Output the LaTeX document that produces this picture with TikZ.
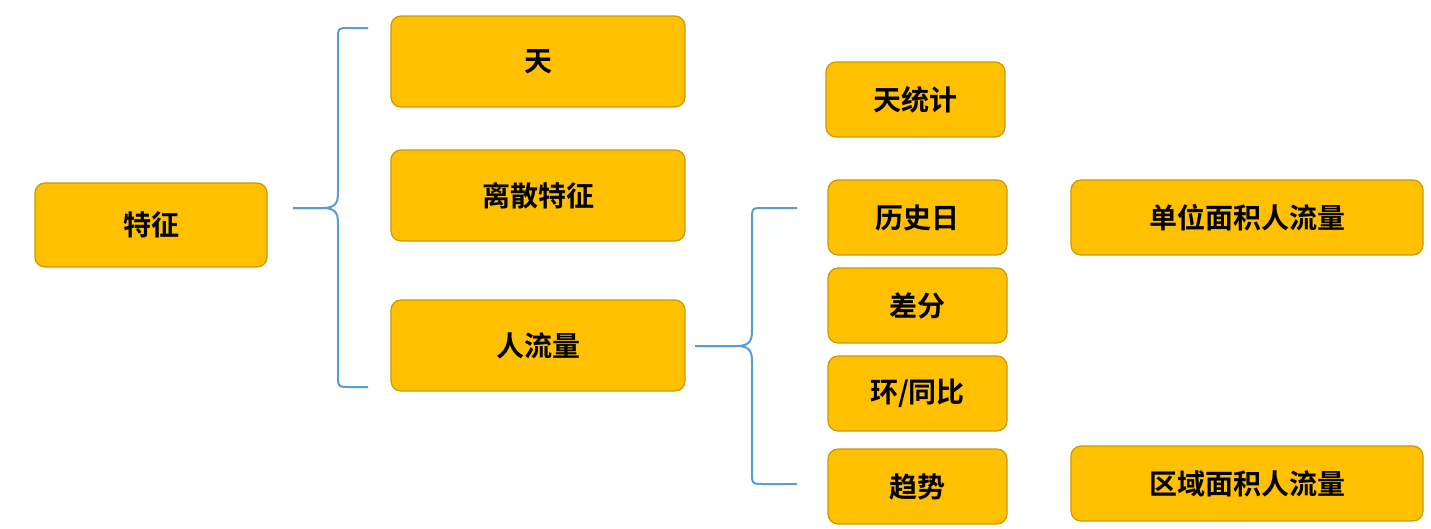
\documentclass[tikz,border=0pt]{standalone}
\usepackage{fontspec}
\newfontfamily\cjk{Noto Sans CJK SC}[BoldFont={Noto Sans CJK SC Bold}]
\definecolor{boxfill}{HTML}{FFC000}
\definecolor{boxdraw}{HTML}{C99A00}
\definecolor{brace}{HTML}{5B9BD5}
\begin{document}
\begin{tikzpicture}[x=1pt,y=-1pt,
  box/.style={draw=boxdraw,fill=boxfill,line width=1.2pt,rounded corners=10pt,inner sep=0pt,font=\cjk\bfseries\fontsize{28}{30}\selectfont},
  br/.style={draw=brace,line width=2pt}]
\useasboundingbox (0,0) rectangle (1431,528);
\node[box,minimum width=232,minimum height=84] (tz) at (151,225) {特征};
\node[box,minimum width=294,minimum height=91] (tian) at (538,61.5) {天};
\node[box,minimum width=294,minimum height=91] (lisan) at (538,195.5) {离散特征};
\node[box,minimum width=294,minimum height=91] (rll) at (538,345.5) {人流量};
\node[box,minimum width=179,minimum height=75] (tj) at (915.5,99.5) {天统计};
\node[box,minimum width=179,minimum height=75] (ls) at (917.5,217.5) {历史日};
\node[box,minimum width=179,minimum height=75] (cf) at (917.5,305.5) {差分};
\node[box,minimum width=179,minimum height=75] (hb) at (917.5,393.5) {环/同比};
\node[box,minimum width=179,minimum height=75] (qs) at (917.5,486.5) {趋势};
\node[box,minimum width=352,minimum height=75] (dw) at (1247,217.5) {单位面积人流量};
\node[box,minimum width=352,minimum height=75] (qy) at (1247,483.5) {区域面积人流量};
\coordinate (a0) at (293,208);
\coordinate (a1) at (368,28);
\coordinate (a2) at (368,387);
\draw[br] (a0) -- (323,208) .. controls (338,208) and (338,200) .. (338,190) -- (338,40) .. controls (338,28) .. (350,28) -- (a1);
\draw[br] (a0) -- (323,208) .. controls (338,208) and (338,216) .. (338,226) -- (338,375) .. controls (338,387) .. (350,387) -- (a2);
\coordinate (b0) at (695,346);
\coordinate (b1) at (797,208);
\coordinate (b2) at (797,484);
\draw[br] (b0) -- (737,346) .. controls (752,346) and (752,338) .. (752,328) -- (752,220) .. controls (752,208) .. (764,208) -- (b1);
\draw[br] (b0) -- (737,346) .. controls (752,346) and (752,354) .. (752,364) -- (752,472) .. controls (752,484) .. (764,484) -- (b2);
\end{tikzpicture}
\end{document}
